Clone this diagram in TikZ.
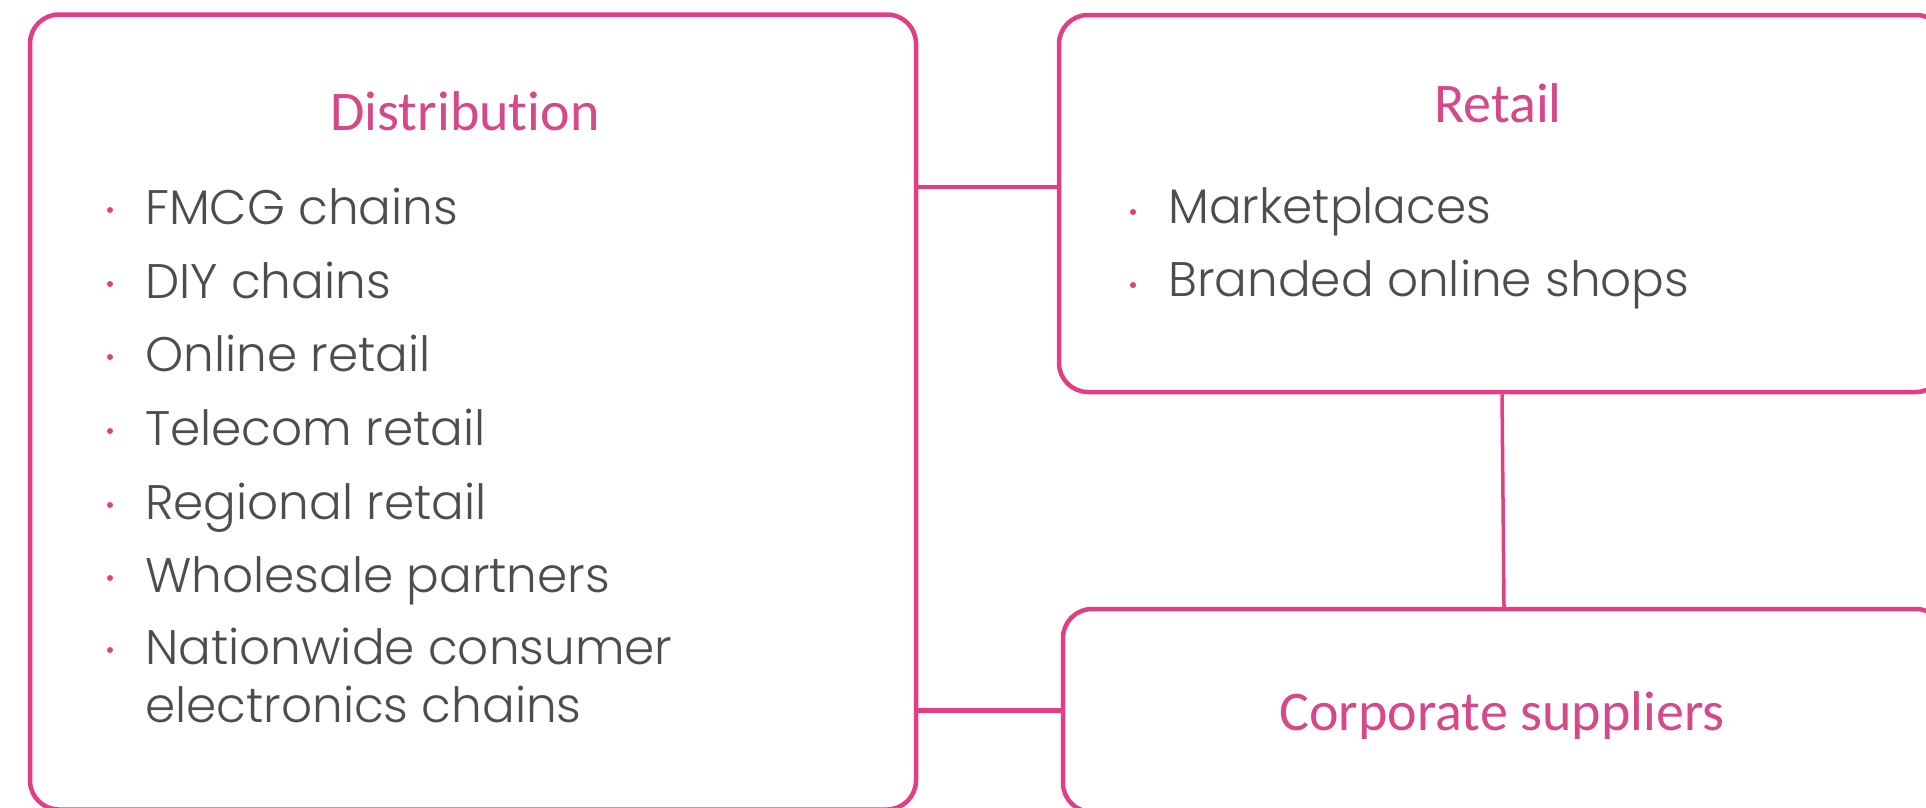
\documentclass[tikz,border=0pt]{standalone}
\usepackage{fontspec}
\setmainfont{Carlito}[Ligatures={NoCommon}]
\newfontfamily\itemfont{Poppins Light}
\definecolor{linepink}{RGB}{226,62,134}
\definecolor{titlepink}{RGB}{214,72,138}
\definecolor{itemgray}{RGB}{77,77,77}
\tikzstyle{group}=[rectangle, rounded corners=29pt, draw=linepink, line width=4.5pt, fill=white, inner sep=0pt]
\tikzstyle{title}=[anchor=base, inner sep=0pt, text=titlepink, font=\fontsize{56}{66}\selectfont]
\tikzstyle{item}=[anchor=base west, inner sep=0pt, text=itemgray, font=\itemfont\fontsize{48.5}{58}\selectfont]
\tikzstyle{dot}=[circle, fill=linepink, inner sep=0pt, minimum size=6pt]
\tikzstyle{link}=[-, draw=linepink, line width=4.5pt]
\begin{document}
\begin{tikzpicture}[x=1pt, y=-1pt]
				\useasboundingbox (0,0) rectangle (1926,807);
				
				%The three boxes
				\draw (473,412) node[group, minimum width=886pt, minimum height=795pt] (dist) {};
				\draw (1502,203.5) node[group, minimum width=886pt, minimum height=377pt] (retail) {};
				\draw (1504,710.5) node[group, minimum width=882pt, minimum height=203pt] (corp) {};
				
				%The links between them
				\coordinate (rlink) at ([yshift=16.5pt]retail.west);
				\draw[link] (rlink) -- (dist.east |- rlink);
				\draw[link] (corp.west) -- (dist.east |- corp.west);
				\draw[link, line width=3.5pt] (retail.south) -- (corp.north);
				
				%The titles
				\draw (465,130) node[title] (t-dist) {Distribution};
				\draw (1498,122) node[title] (t-retail) {Retail};
				\draw (1502,730) node[title] (t-corp) {Corporate suppliers};
				
				%The distribution items
				\draw (110,210) node[dot] (d1) {};
				\draw (145,224) node[item] (i1) {FMCG chains};
				\draw (110,284) node[dot] (d2) {};
				\draw (145,298) node[item] (i2) {DIY chains};
				\draw (110,357) node[dot] (d3) {};
				\draw (145,371) node[item] (i3) {Online retail};
				\draw (110,431) node[dot] (d4) {};
				\draw (145,445) node[item] (i4) {Telecom retail};
				\draw (110,505) node[dot] (d5) {};
				\draw (145,519) node[item] (i5) {Regional retail};
				\draw (110,578) node[dot] (d6) {};
				\draw (145,592) node[item] (i6) {Wholesale partners};
				\draw (110,650) node[dot] (d7) {};
				\draw (145,664) node[item] (i7) {Nationwide consumer};
				\draw (145,722) node[item] (i7b) {electronics chains};
				
				%The retail items
				\draw (1133,212) node[dot] (d8) {};
				\draw (1168,223) node[item] (i8) {Marketplaces};
				\draw (1133,285) node[dot] (d9) {};
				\draw (1168,296) node[item] (i9) {Branded online shops};
			\end{tikzpicture}
\end{document}
